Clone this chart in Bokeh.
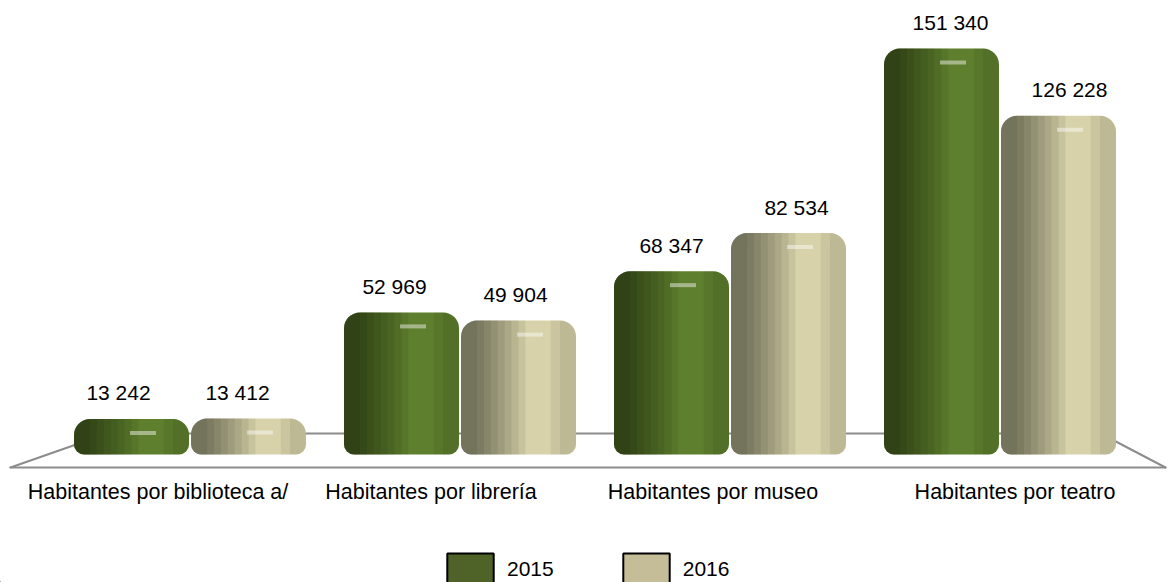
from bokeh.plotting import figure
from bokeh.models import ColumnDataSource, Range1d, Legend, LegendItem
from bokeh.embed import file_html
from bokeh.resources import INLINE
from bokeh.core.properties import value

# ---- data ----
categories = ["Habitantes por biblioteca a/", "Habitantes por librería",
              "Habitantes por museo", "Habitantes por teatro"]
series_names = ["2015", "2016"]
values_2015 = [13242, 52969, 68347, 151340]
values_2016 = [13412, 49904, 82534, 126228]

def fmt(v):
    return f"{v:,}".replace(",", " ")

# ---- style ----
FONT = "Liberation Sans"
GREEN = "#5e7f2d"
BEIGE = "#d7d2a9"
LEG_GREEN = "#4f6228"
LEG_BEIGE = "#c4bd97"
BAR_W = 0.426
OFF = 0.2167
cat_label_offsets = [-32, -29, -17, 15]
val_label_offsets = [[-13, -7, 0, 9], [-11, -3, 8, 11]]
PX = 372.76  # data units per screen pixel (vertical)

W, H = 1167, 582
p = figure(width=W, height=H, output_backend="svg", toolbar_location=None,
           x_range=Range1d(-0.7019, 3.6204), y_range=Range1d(-47713, 169233),
           min_border=0, outline_line_color=None)
p.xaxis.visible = False
p.yaxis.visible = False
p.xgrid.visible = False
p.ygrid.visible = False
p.background_fill_color = "white"

# floor (perspective plane) drawn as open lines
p.multi_line(xs=[[-0.6648, -0.3056, 3.3722, 3.613], [-0.6648, 3.613]],
             ys=[[-4846, 7828, 7828, -4846], [-4846, -4846]],
             line_color="#8c8c8c", line_width=2, line_join="round", line_cap="round")

idx = list(range(len(categories)))
left_shade = [0.14, 0.20, 0.26, 0.32, 0.38, 0.44, 0.50, 0.56]
right_shade = [0.14, 0.22]

for s, (vals, col) in enumerate(((values_2015, GREEN), (values_2016, BEIGE))):
    xs = [i + (OFF if s else -OFF) for i in idx]
    src = ColumnDataSource(dict(x=xs, top=vals, lab=[fmt(v) for v in vals],
                                xo=val_label_offsets[s]))
    p.vbar(x="x", top="top", bottom=0, width=BAR_W, source=src,
           fill_color=col, line_color=None, border_radius=(16, 16, 10, 10))
    for f in left_shade:
        p.vbar(x=[x - BAR_W / 2 + BAR_W * f / 2 for x in xs], top=vals, bottom=0,
               width=BAR_W * f, fill_color="black", fill_alpha=0.07,
               line_color=None, border_radius=(16, 0, 0, 10))
    for f in right_shade:
        p.vbar(x=[x + BAR_W / 2 - BAR_W * f / 2 for x in xs], top=vals, bottom=0,
               width=BAR_W * f, fill_color="black", fill_alpha=0.06,
               line_color=None, border_radius=(0, 16, 10, 0))
    # highlight on cap
    p.rect(x=[x + BAR_W * 0.1 for x in xs], y=[v - 14 * PX for v in vals],
           width=26, height=4, width_units="screen", height_units="screen",
           fill_color="white", fill_alpha=0.45, line_color=None)
    p.text(x="x", y="top", text="lab", source=src, text_align="center",
           text_baseline="alphabetic", x_offset="xo", y_offset=-26,
           text_font=value(FONT), text_font_size="21px", text_color="#000000")

# category labels
for i, c in enumerate(categories):
    p.text(x=[i], y=[0], text=[c], x_offset=cat_label_offsets[i], y_offset=37,
           text_align="center", text_baseline="alphabetic",
           text_font=value(FONT), text_font_size="21.5px", text_color="#000000")

# legend proxies (placed far outside the visible ranges, only swatches show)
r1 = p.vbar(x=[-50], top=[-5e6], bottom=[-5.1e6], width=0.1,
            fill_color=LEG_GREEN, line_color="black", line_width=2)
r2 = p.vbar(x=[-50], top=[-5e6], bottom=[-5.1e6], width=0.1,
            fill_color=LEG_BEIGE, line_color="black", line_width=2)
legend = Legend(items=[LegendItem(label=series_names[0], renderers=[r1]),
                       LegendItem(label=series_names[1], renderers=[r2])],
                orientation="horizontal", location=(441, -7),
                glyph_width=58, glyph_height=40, label_standoff=8, spacing=63,
                padding=0, margin=0, border_line_color=None, background_fill_alpha=0,
                label_text_font=FONT, label_text_font_size="21px",
                label_text_color="#000000")
p.add_layout(legend, "center")

open("out.html", "w").write(file_html(p, INLINE))
